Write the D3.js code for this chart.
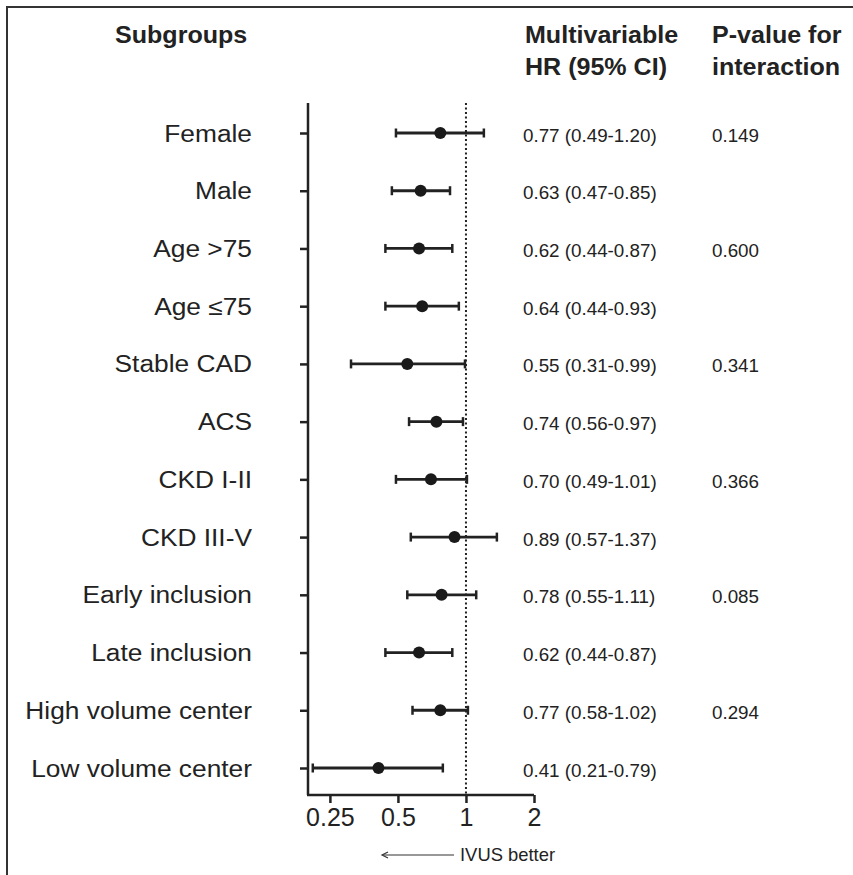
<!DOCTYPE html>
<html>
<head>
<meta charset="utf-8">
<script src="https://cdn.jsdelivr.net/npm/d3@7"></script>
<style>
  body { margin: 0; background: #fff; }
  svg text { font-family: "Liberation Sans", Arial, sans-serif; fill: #222; }
</style>
</head>
<body>
<div id="chart"></div>
<script>
// subgroup data
var subgroups = ['Female', 'Male', 'Age >75', 'Age \u226475', 'Stable CAD', 'ACS',
  'CKD I-II', 'CKD III-V', 'Early inclusion', 'Late inclusion',
  'High volume center', 'Low volume center'];
var hr = [0.77, 0.63, 0.62, 0.64, 0.55, 0.74, 0.70, 0.89, 0.78, 0.62, 0.77, 0.41];
var lower = [0.49, 0.47, 0.44, 0.44, 0.31, 0.56, 0.49, 0.57, 0.55, 0.44, 0.58, 0.21];
var upper = [1.20, 0.85, 0.87, 0.93, 0.99, 0.97, 1.01, 1.37, 1.11, 0.87, 1.02, 0.79];
var pInteraction = ['0.149', '', '0.600', '', '0.341', '', '0.366', '', '0.085', '', '0.294', ''];
var xTicks = [0.25, 0.5, 1, 2];

var width = 853, height = 875;
var svg = d3.select('#chart').append('svg')
  .attr('width', width)
  .attr('height', height);

// frame (top + left edges only)
svg.append('path')
  .attr('d', 'M7,875V7H853')
  .attr('fill', 'none')
  .attr('stroke', '#333')
  .attr('stroke-width', 2);

var x = d3.scaleLog().base(2).domain([0.2, 2]).range([308, 534]);
var y = d3.scalePoint().domain(subgroups).range([133, 768]);
var axisTop = 103, axisBottom = 795;

var rows = subgroups.map(function(d, i) {
  return { name: d, hr: hr[i], lo: lower[i], hi: upper[i], p: pInteraction[i] };
});

// headers
function header(txt, xx, yy) {
  svg.append('text')
    .attr('transform', 'translate(' + xx + ',' + yy + ') scale(1.09,1)')
    .attr('font-size', 23)
    .attr('font-weight', 'bold')
    .text(txt);
}
header('Subgroups', 115, 43);
header('Multivariable', 525, 43);
header('HR (95% CI)', 525, 75);
header('P-value for', 712, 43);
header('interaction', 712, 75);

// reference line at HR = 1
svg.append('line')
  .attr('x1', x(1)).attr('x2', x(1))
  .attr('y1', axisTop).attr('y2', axisBottom)
  .attr('stroke', '#222')
  .attr('stroke-width', 2)
  .attr('stroke-dasharray', '2,2.5');

// y axis with ticks on the left
var yAxis = d3.axisLeft(y).tickSize(8).tickFormat('');
var gy = svg.append('g').attr('transform', 'translate(' + x.range()[0] + ',0)').call(yAxis);
gy.select('.domain').attr('d', 'M0,' + axisTop + 'V' + axisBottom);
gy.selectAll('line, path').attr('stroke', '#222').attr('stroke-width', 2.5);

// x axis
var xAxis = d3.axisBottom(x).tickValues(xTicks).tickSize(8).tickSizeOuter(0)
  .tickFormat(function(d) { return d; });
var gx = svg.append('g').attr('transform', 'translate(0,' + axisBottom + ')').call(xAxis);
gx.select('.domain').attr('d', 'M' + (x.range()[0] - 1) + ',0H' + x.range()[1]);
gx.selectAll('line, path').attr('stroke', '#222').attr('stroke-width', 2.5);
gx.selectAll('text')
  .attr('font-size', 25)
  .attr('font-family', '"Liberation Sans", Arial, sans-serif')
  .attr('fill', '#222')
  .attr('y', 13)
  .attr('dy', '0.71em');

// subgroup labels
svg.selectAll('.label')
  .data(rows)
  .enter().append('text')
  .attr('class', 'label')
  .attr('transform', function(d) { return 'translate(252,' + (y(d.name) + 8.5) + ') scale(1.12,1)'; })
  .attr('text-anchor', 'end')
  .attr('font-size', 23.5)
  .text(function(d) { return d.name; });

// CI bars
var bar = svg.selectAll('.row')
  .data(rows)
  .enter().append('g')
  .attr('class', 'row')
  .attr('transform', function(d) { return 'translate(0,' + y(d.name) + ')'; });

bar.append('line')
  .attr('x1', function(d) { return x(d.lo); })
  .attr('x2', function(d) { return x(d.hi); })
  .attr('stroke', '#222')
  .attr('stroke-width', 2.8);

bar.selectAll('.cap')
  .data(function(d) { return [d.lo, d.hi]; })
  .enter().append('line')
  .attr('class', 'cap')
  .attr('x1', function(d) { return x(d); })
  .attr('x2', function(d) { return x(d); })
  .attr('y1', -4.5).attr('y2', 4.5)
  .attr('stroke', '#222')
  .attr('stroke-width', 2.5);

bar.append('circle')
  .attr('cx', function(d) { return x(d.hr); })
  .attr('r', 6)
  .attr('fill', '#1a1a1a');

// HR text and p-value columns
bar.append('text')
  .attr('x', 523)
  .attr('y', 8.5)
  .attr('font-size', 18.8)
  .text(function(d) {
    return d.hr.toFixed(2) + ' (' + d.lo.toFixed(2) + '-' + d.hi.toFixed(2) + ')';
  });

bar.append('text')
  .attr('x', 712)
  .attr('y', 8.5)
  .attr('font-size', 18.8)
  .text(function(d) { return d.p; });

// "IVUS better" arrow
var arrowY = 855;
svg.append('line')
  .attr('x1', 383).attr('x2', 454)
  .attr('y1', arrowY).attr('y2', arrowY)
  .attr('stroke', '#333')
  .attr('stroke-width', 1.2);
svg.append('path')
  .attr('d', 'M388,' + (arrowY - 3) + 'L382,' + arrowY + 'L388,' + (arrowY + 3))
  .attr('fill', 'none')
  .attr('stroke', '#333')
  .attr('stroke-width', 1.2);
svg.append('text')
  .attr('x', 460)
  .attr('y', 861)
  .attr('font-size', 18.4)
  .text('IVUS better');
</script>
</body>
</html>
